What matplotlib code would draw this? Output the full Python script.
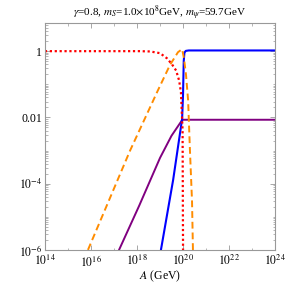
#!/usr/bin/env python3
import numpy as np
import matplotlib
matplotlib.use('Agg')
import matplotlib.pyplot as plt
from matplotlib.ticker import FixedLocator, FixedFormatter, NullFormatter

plt.rc('font', family='serif', serif=['Liberation Serif', 'DejaVu Serif'])
plt.rc('mathtext', fontset='stix')

# values (log10 A, value)
red_logA = [14.0, 18.1, 18.57, 19.0, 19.3, 19.52, 19.70, 19.83, 19.91, 19.98, 20.0, 20.02]
red_y = [1.0, 1.0, 0.98, 0.87, 0.61, 0.40, 0.26, 0.13, 0.057, 0.004, 1e-6, 1e-8]

orange_logA = [15.87, 17.70, 18.91, 19.43, 19.78, 19.96, 20.04, 20.13, 20.22, 20.30, 20.39, 20.43, 20.46]
orange_y = [1e-6, 1e-3, 0.066, 0.38, 0.93, 1.15, 0.61, 0.19, 0.033, 1e-3, 3e-5, 1e-6, 1e-7]

blue_logA = [18.95, 19.04, 19.57, 19.96, 20.0, 20.03, 20.06, 20.12, 20.25, 24.0]
blue_y = [4e-7, 1e-6, 1.3e-4, 9e-3, 0.05, 0.5, 0.9, 1.02, 1.05, 1.05]

purple_logA = [17.0, 17.22, 18.1, 19.0, 19.5, 19.96, 20.02, 24.0]
purple_y = [3e-7, 1e-6, 2.2e-5, 6e-4, 2.8e-3, 8.3e-3, 8.5e-3, 8.5e-3]

xticks = [1e14, 1e16, 1e18, 1e20, 1e22, 1e24]
xticklabels = [r'$10^{14}$', r'$10^{16}$', r'$10^{18}$', r'$10^{20}$', r'$10^{22}$', r'$10^{24}$']
yticks = [1e-6, 1e-4, 1e-2, 1.0]
yticklabels = [r'$10^{-6}$', r'$10^{-4}$', '0.01', '1']

title = r'$\gamma$=0.8, $m_S$=1.0$\times$10$^8$GeV, $m_\psi$=59.7GeV'


def main():
    fig = plt.figure(figsize=(2.86, 2.84), dpi=100)
    ax = fig.add_axes([0.157, 0.120, 0.805, 0.799])

    ax.plot(10 ** np.array(purple_logA), purple_y, color='#800080', lw=1.4)
    ax.plot(10 ** np.array(blue_logA), blue_y, color='#0000FF', lw=1.5)
    ax.plot(10 ** np.array(orange_logA), orange_y, color='#FF8C00', lw=1.4,
            linestyle=(0, (3.5, 2)))
    ax.plot(10 ** np.array(red_logA), red_y, color='#FF0000', lw=1.6,
            linestyle=(0, (1, 1.2)))

    ax.set_xscale('log')
    ax.set_yscale('log')
    ax.set_xlim(1e14, 1e24)
    ax.set_ylim(1e-6, 10 ** 0.85)

    ax.xaxis.set_major_locator(FixedLocator(xticks))
    ax.xaxis.set_major_formatter(FixedFormatter(xticklabels))
    ax.xaxis.set_minor_locator(FixedLocator([10.0 ** k for k in range(15, 24, 2)]))
    ax.xaxis.set_minor_formatter(NullFormatter())
    ax.yaxis.set_major_locator(FixedLocator(yticks))
    ax.yaxis.set_major_formatter(FixedFormatter(yticklabels))
    yminor = [m * 10.0 ** k for k in range(-6, 1) for m in range(2, 10)] + [1e-5, 1e-3, 0.1]
    ax.yaxis.set_minor_locator(FixedLocator(yminor))
    ax.yaxis.set_minor_formatter(NullFormatter())

    for s in ax.spines.values():
        s.set_color('#999999')
        s.set_linewidth(0.8)
    ax.tick_params(which='both', direction='in', top=True, right=True,
                   color='#999999', labelsize=8.5)
    ax.tick_params(axis='x', pad=3)
    ax.tick_params(axis='y', pad=2)
    ax.tick_params(which='major', length=3.5, width=0.6)
    ax.tick_params(which='minor', length=1.8, width=0.5)

    ax.set_xlabel(r'$A$ (GeV)', fontsize=8.5, labelpad=0)
    ax.set_title(title, fontsize=8, pad=3)

    fig.savefig('out.png', dpi=100)


if __name__ == '__main__':
    main()
